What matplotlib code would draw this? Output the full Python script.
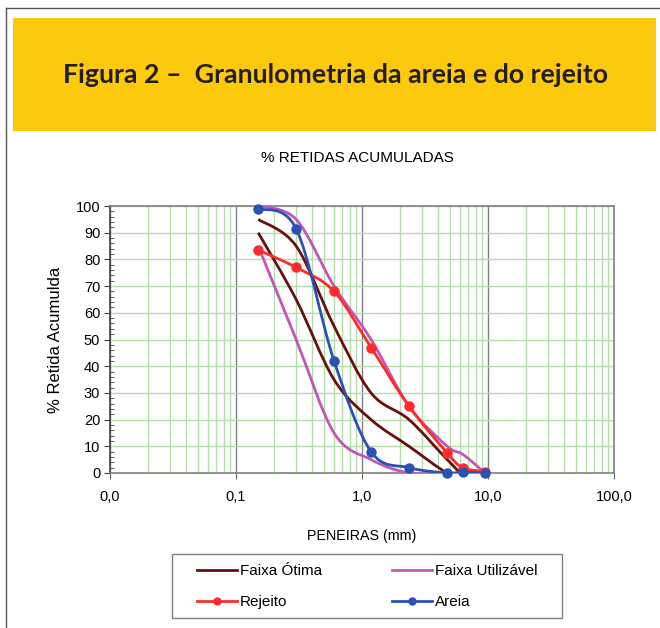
import matplotlib
matplotlib.use('Agg')
import matplotlib.pyplot as plt
import numpy as np
from matplotlib.path import Path
from matplotlib.patches import PathPatch, Rectangle
from matplotlib.lines import Line2D
from matplotlib.ticker import MultipleLocator, LogLocator, FuncFormatter

# peneiras (mm) e % retida acumulada
peneiras = [0.15, 0.3, 0.6, 1.18, 2.36, 4.75, 6.3, 9.5]
otima_inf = [90, 65, 35, 20, 10, 0, 0, 0]
otima_sup = [95, 85, 55, 30, 20, 5, 0, 0]
util_inf = [85, 50, 15, 5, 0, 0, 0, 0]
util_sup = [100, 95, 70, 50, 25, 10, 7, 0]
rejeito = [83.5, 77, 68, 47, 25, 7.5, 2, 0.5]
areia = [99, 91.5, 42, 8, 2, 0, 0.3, 0]

cor_otima = '#6a0f0f'
cor_util = '#c256b8'
cor_rejeito = '#ff2a2a'
cor_areia = '#2a52b4'
verde = '#b4dcaa'


def curva_suave(x, y):
    # curva suavizada (estilo Excel) com pontos de controle Bezier em log(x)
    lx = np.log10(x)
    y = np.asarray(y, dtype=float)
    n = len(lx)
    verts = [(x[0], y[0])]
    codes = [Path.MOVETO]
    for i in range(n - 1):
        i0 = max(i - 1, 0)
        i3 = min(i + 2, n - 1)
        c1x = lx[i] + (lx[i + 1] - lx[i0]) / 6
        c1y = y[i] + (y[i + 1] - y[i0]) / 6
        c2x = lx[i + 1] - (lx[i3] - lx[i]) / 6
        c2y = y[i + 1] - (y[i3] - y[i]) / 6
        verts += [(10 ** c1x, c1y), (10 ** c2x, c2y), (x[i + 1], y[i + 1])]
        codes += [Path.CURVE4] * 3
    return Path(verts, codes)


fig = plt.figure(figsize=(6.6, 6.28), dpi=100)
plt.rcParams['font.family'] = ['Liberation Sans', 'DejaVu Sans']

# moldura e faixa amarela do titulo
fig.add_artist(Line2D([6 / 660, 6 / 660], [1 - 8 / 628, 0], color='#555555', lw=1))
fig.add_artist(Line2D([6 / 660, 1], [1 - 8 / 628, 1 - 8 / 628], color='#555555', lw=1))
fig.add_artist(Rectangle((13 / 660, 1 - 131 / 628), 643 / 660, 113 / 628,
                         facecolor='#fdc90c', edgecolor='none'))
fig.text(336 / 660, 1 - 75 / 628, 'Figura 2 \u2013  Granulometria da areia e do rejeito',
         ha='center', va='center', fontsize=19.3, fontweight='bold',
         family=['Lato', 'DejaVu Sans'], color='#231f20')

ax = fig.add_axes([110 / 660, 1 - 473 / 628, 504 / 660, 267 / 628])

for y, cor in [(otima_inf, cor_otima), (otima_sup, cor_otima),
               (util_inf, cor_util), (util_sup, cor_util)]:
    ax.add_patch(PathPatch(curva_suave(peneiras, y), facecolor='none',
                           edgecolor=cor, lw=2, zorder=3))
for y, cor in [(rejeito, cor_rejeito), (areia, cor_areia)]:
    ax.add_patch(PathPatch(curva_suave(peneiras, y), facecolor='none',
                           edgecolor=cor, lw=2, zorder=4))
    ax.plot(peneiras, y, linestyle='none', marker='o', markersize=6.5,
            color=cor, zorder=5, clip_on=False)

ax.set_xscale('log')
ax.set_xlim(0.01, 100)
ax.set_ylim(0, 100)
ax.xaxis.set_major_locator(LogLocator(base=10, numticks=10))
ax.xaxis.set_minor_locator(LogLocator(base=10, subs=np.arange(2, 10), numticks=10))
ax.xaxis.set_major_formatter(FuncFormatter(lambda v, p: f'{v:.1f}'.replace('.', ',')))
ax.yaxis.set_major_locator(MultipleLocator(10))
ax.yaxis.set_minor_locator(MultipleLocator(2))

ax.grid(which='minor', axis='x', color=verde, lw=1)
ax.grid(which='major', axis='x', color='#808080', lw=1)
ax.grid(which='major', axis='y', color=verde, lw=1)
ax.set_axisbelow(True)

ax.tick_params(axis='x', which='major', direction='out', length=4, color='#606060',
               labelsize=10.5, pad=8)
ax.tick_params(axis='x', which='minor', length=0)
ax.tick_params(axis='y', which='major', direction='out', length=4, color='#404040',
               labelsize=10.5, pad=3)
ax.tick_params(axis='y', which='minor', direction='in', length=3, color='#404040')
for s in ax.spines.values():
    s.set_color('#808080')
    s.set_linewidth(1.2)
ax.spines['left'].set_color('#404040')

ax.set_title('% RETIDAS ACUMULADAS', fontsize=11, pad=32, x=0.49)
ax.set_xlabel('PENEIRAS (mm)', fontsize=10.3, labelpad=18)
ax.set_ylabel('% Retida Acumulda', fontsize=12, labelpad=9)

# legenda: caixa desenhada a parte
fig.add_artist(Rectangle((172 / 660, 1 - 618 / 628), 390 / 660, 64 / 628,
                         facecolor='white', edgecolor='#808080', lw=1))
handles = [Line2D([], [], color=cor_otima, lw=2),
           Line2D([], [], color=cor_rejeito, lw=2, marker='o', markersize=5),
           Line2D([], [], color=cor_util, lw=2),
           Line2D([], [], color=cor_areia, lw=2, marker='o', markersize=5)]
rotulos = ['Faixa \u00d3tima', 'Rejeito', 'Faixa Utiliz\u00e1vel', 'Areia']
leg = fig.legend(handles, rotulos, ncol=2, loc='upper left',
                 bbox_to_anchor=(197 / 660, 1 - 564 / 628),
                 fontsize=11, frameon=False, handlelength=2.6, handletextpad=0.2,
                 borderaxespad=0, borderpad=0, labelspacing=1.12, columnspacing=4.6)

fig.savefig('out.png', dpi=100)
